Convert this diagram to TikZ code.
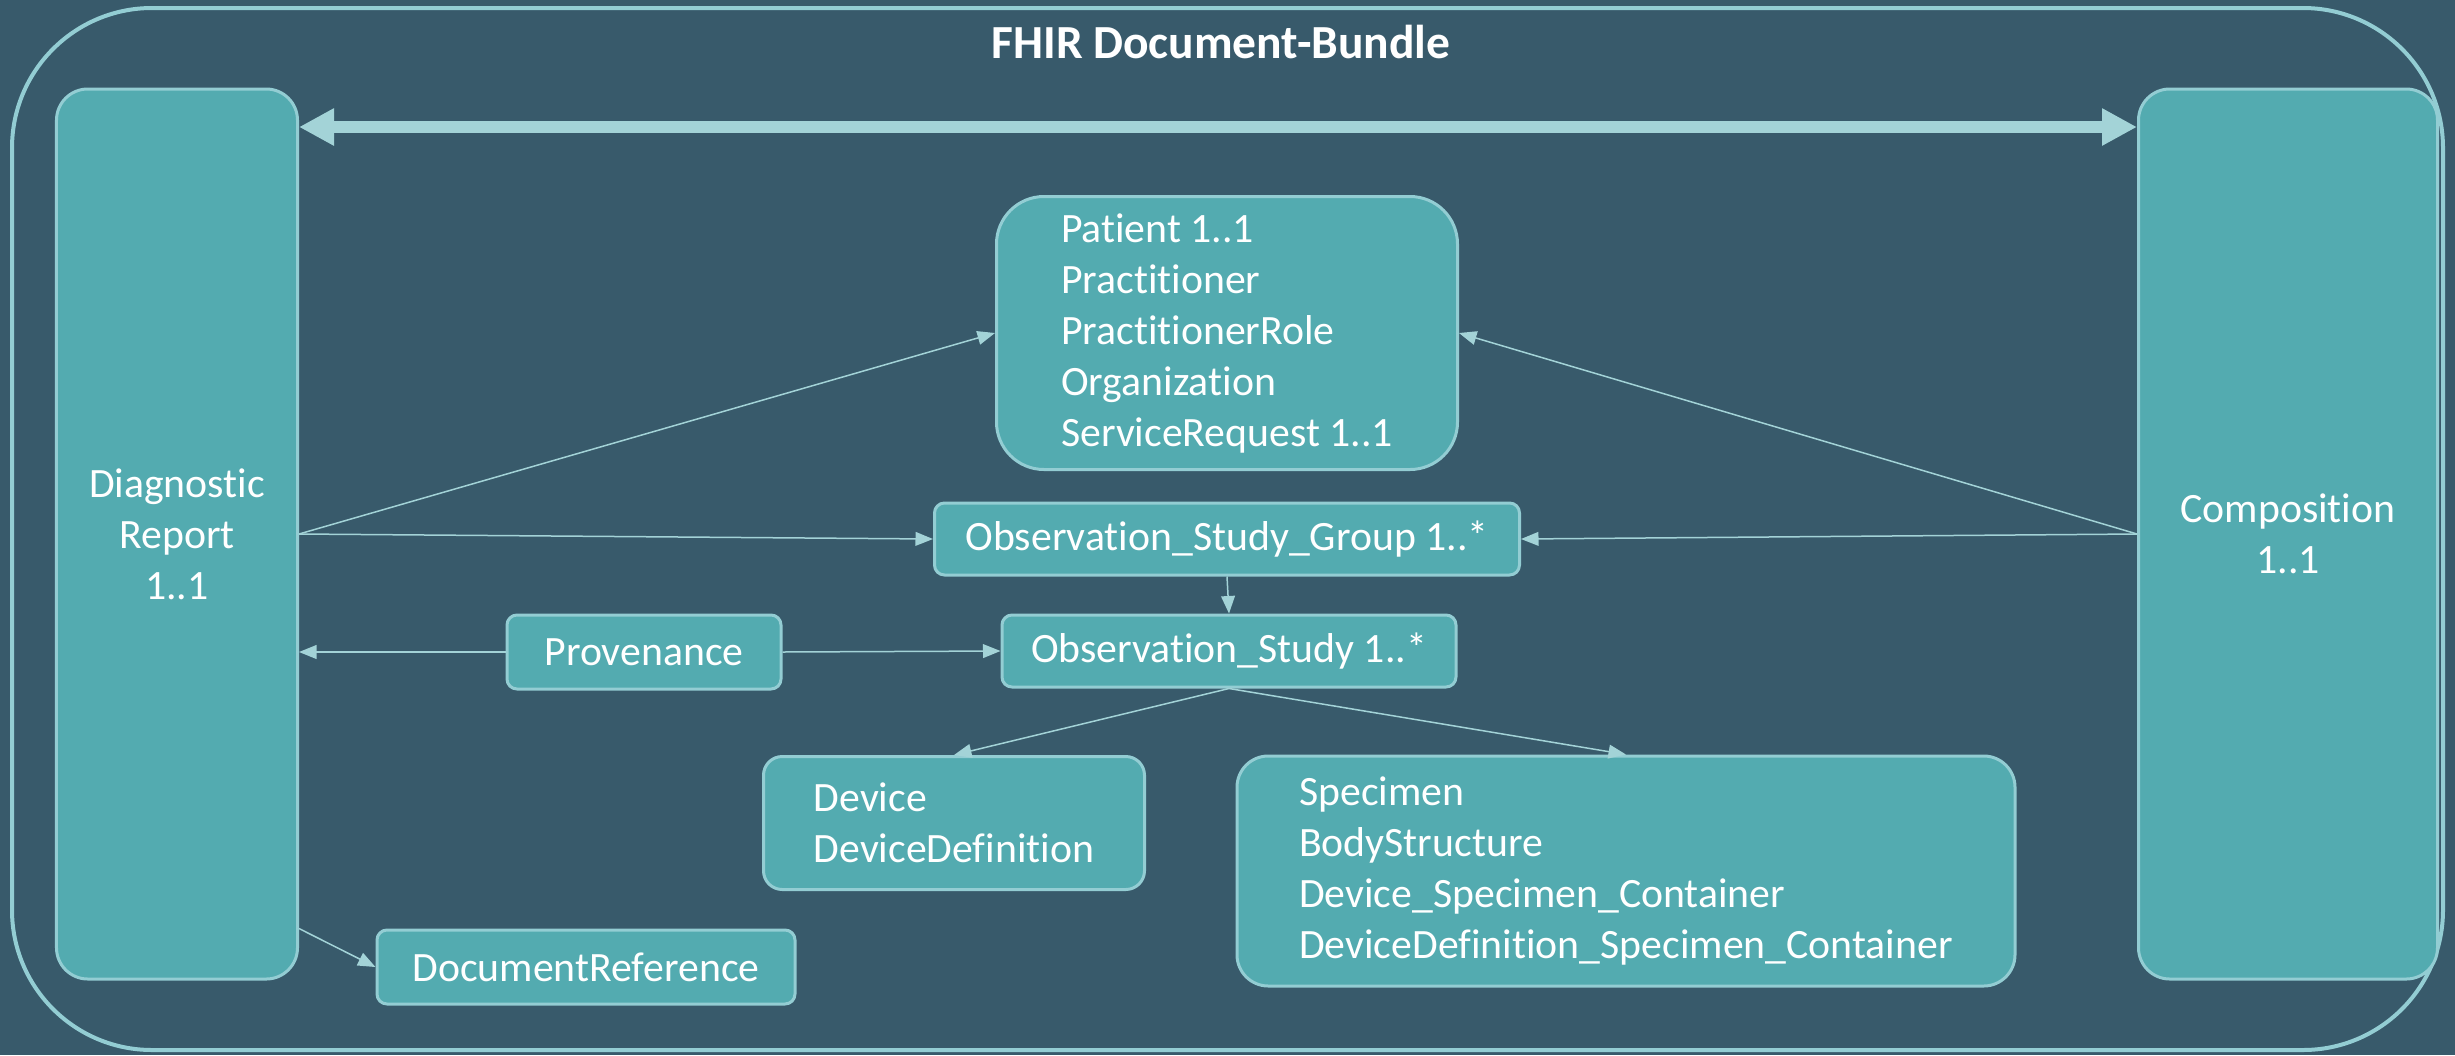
\documentclass[tikz,border=0pt]{standalone}
\usepackage{fontspec}
\setmainfont{Carlito}[Ligatures=NoCommon]
\usetikzlibrary{positioning,arrows.meta}
\definecolor{bgblue}{HTML}{385A6B}
\definecolor{boxteal}{HTML}{53ABB0}
\definecolor{edgeteal}{HTML}{93CDD3}
\definecolor{arrowteal}{HTML}{A3D3D7}

\begin{document}
\begin{tikzpicture}[x=0.4pt, y=-0.4pt,
  box/.style={draw=edgeteal, fill=boxteal, line width=1.2pt, text=white, inner sep=0pt,
    font=\fontsize{16.7}{20.4}\selectfont, align=left},
  link/.style={draw=arrowteal, line width=0.6pt, -{Triangle[length=7pt,width=5.5pt]}}]
  \fill[bgblue] (0,0) rectangle (2455,1055);
  \useasboundingbox (0,0) rectangle (2455,1055);
  % bundle frame
  \draw[edgeteal, line width=1.6pt, rounded corners=56pt] (12,8) rectangle (2443,1050);
  \node[text=white, font=\fontsize{19}{22}\selectfont\bfseries] (title) at (1221,42) {FHIR Document-Bundle};
  % side boxes
  \node[box, align=center, rounded corners=12.5pt, minimum width=96.4pt, minimum height=356pt] (diag) at (177,534) {Diagnostic\\Report\\1..1};
  \node[box, align=center, rounded corners=12.5pt, minimum width=119.6pt, minimum height=356pt] (comp) at (2288,534) {Composition\\1..1};
  % resources
  \node[box, rounded corners=19pt, minimum width=184.4pt, minimum height=109.2pt] (patient) at (1227,333)
    {Patient 1..1\\Practitioner\\PractitionerRole\\Organization\\ServiceRequest 1..1};
  \node[box, rounded corners=4pt, minimum width=234pt, minimum height=28.8pt] (group) at (1227,539) {Observation\_Study\_Group 1..*};
  \node[box, rounded corners=4pt, minimum width=109.6pt, minimum height=29.6pt] (prov) at (644,652) {Provenance};
  \node[box, rounded corners=4pt, minimum width=181.6pt, minimum height=28.8pt] (study) at (1229,651) {Observation\_Study 1..*};
  \node[box, rounded corners=7.5pt, minimum width=152.4pt, minimum height=53.2pt] (device) at (954,823) {Device\\DeviceDefinition};
  \node[box, rounded corners=12.5pt, minimum width=311.2pt, minimum height=92pt] (specimen) at (1626,871)
    {Specimen\\BodyStructure\\Device\_Specimen\_Container\\DeviceDefinition\_Specimen\_Container};
  \node[box, rounded corners=4pt, minimum width=167.2pt, minimum height=29.6pt] (docref) at (586,967) {DocumentReference};
  % connectors
  \coordinate (bar) at (0,127);
  \draw[arrowteal, line width=4.5pt, {Triangle[length=14pt,width=14pt]}-{Triangle[length=14pt,width=14pt]}] (diag.east |- bar) -- (comp.west |- bar);
  \draw[link] (diag.east) -- (patient.west);
  \draw[link] (comp.west) -- (patient.east);
  \draw[link] (diag.east) -- (group.west);
  \draw[link] (comp.west) -- (group.east);
  \draw[link] (group.south) -- (study.north);
  \draw[link] (prov.west) -- (diag.east |- prov.west);
  \draw[link] (prov.east) -- (study.west);
  \draw[link] (study.south) -- (device.north);
  \draw[link] (study.south) -- (specimen.north);
  \draw[link] (diag.east |- docref.north) -- (docref.west);
\end{tikzpicture}
\end{document}
